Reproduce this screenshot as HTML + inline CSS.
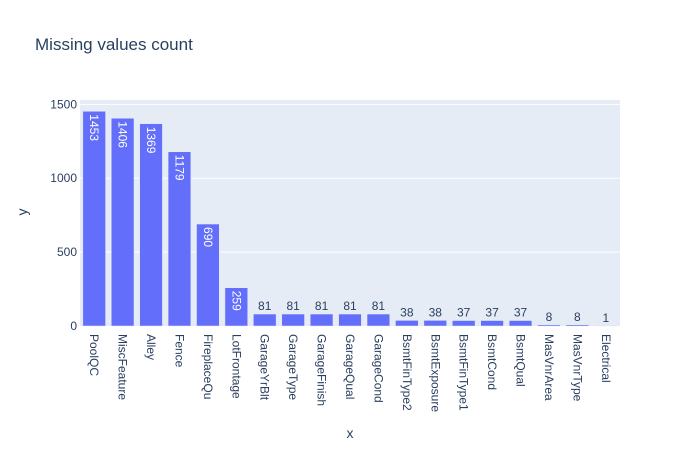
<!DOCTYPE html>
<html><head><meta charset="utf-8"><style>
body{margin:0;background:#fff;font-family:"Liberation Sans",Arial,sans-serif}
svg text{font-family:"Liberation Sans",Arial,sans-serif}
</style></head><body>
<svg id="chart" width="700" height="450" viewBox="0 0 700 450">
<rect x="0" y="0" width="700" height="450" fill="#fff"/>
<text x="35" y="50" font-size="17" fill="#2a3f5f">Missing values count</text>
<rect x="80" y="100" width="540" height="226" fill="#e5ecf6"/>
<g id="grid"></g><g id="bars"></g><g id="labels"></g><g id="xticks"></g><g id="yticks"></g>
<text x="350" y="438" font-size="14" fill="#2a3f5f" text-anchor="middle">x</text>
<text x="0" y="0" font-size="14" fill="#2a3f5f" text-anchor="middle" transform="translate(27,212) rotate(-90)">y</text>
</svg>
<script>
const categories=["PoolQC","MiscFeature","Alley","Fence","FireplaceQu","LotFrontage","GarageYrBlt","GarageType","GarageFinish","GarageQual","GarageCond","BsmtFinType2","BsmtExposure","BsmtFinType1","BsmtCond","BsmtQual","MasVnrArea","MasVnrType","Electrical"];
const values=[1453,1406,1369,1179,690,259,81,81,81,81,81,38,38,37,37,37,8,8,1];
const yTicks=[0,500,1000,1500];
const NS="http://www.w3.org/2000/svg";
const L=80,R=620,T=100,B=326;
const yMax=Math.max(...values)*1.0526;
const y=v=>B-(v/yMax)*(B-T);
const band=(R-L)/categories.length;
const xc=i=>L+band*(i+0.5);
function mk(tag,attrs,parent,txt){const e=document.createElementNS(NS,tag);for(const k in attrs)e.setAttribute(k,attrs[k]);if(txt!==undefined)e.textContent=txt;document.getElementById(parent).appendChild(e);return e;}
yTicks.forEach(t=>{
  if(t>0){const g=mk('line',{x1:L,x2:R,y1:y(t),y2:y(t),stroke:'#fff','stroke-width':1},'grid');
  
  }
  const tx=mk('text',{x:L-3,y:y(t)+4,'font-size':12,fill:'#2a3f5f','text-anchor':'end'},'yticks',String(t));
  
  
});
const bw=band*0.8;
categories.forEach((c,i)=>{
  const v=values[i];const top=y(v);
  const r=mk('rect',{x:xc(i)-bw/2,y:top,width:bw,height:B-top,fill:'#636efa',stroke:'#e5ecf6','stroke-width':0.5},'bars');
  
  
  const s=String(v);const tw=s.length*7+6;
  let lb;
  if(B-top>tw){
    lb=mk('text',{x:0,y:0,'font-size':12,fill:'#fff','text-anchor':'start',transform:`translate(${xc(i)-4},${top+3}) rotate(90)`},'labels',s);
  }else{
    lb=mk('text',{x:xc(i),y:top-4,'font-size':12,fill:'#2a3f5f','text-anchor':'middle'},'labels',s);
  }
  
  
  const xt=mk('text',{x:0,y:0,'font-size':12,fill:'#2a3f5f','text-anchor':'start',transform:`translate(${xc(i)-4},${B+8}) rotate(90)`},'xticks',c);
  
  
});
</script>
</body></html>
